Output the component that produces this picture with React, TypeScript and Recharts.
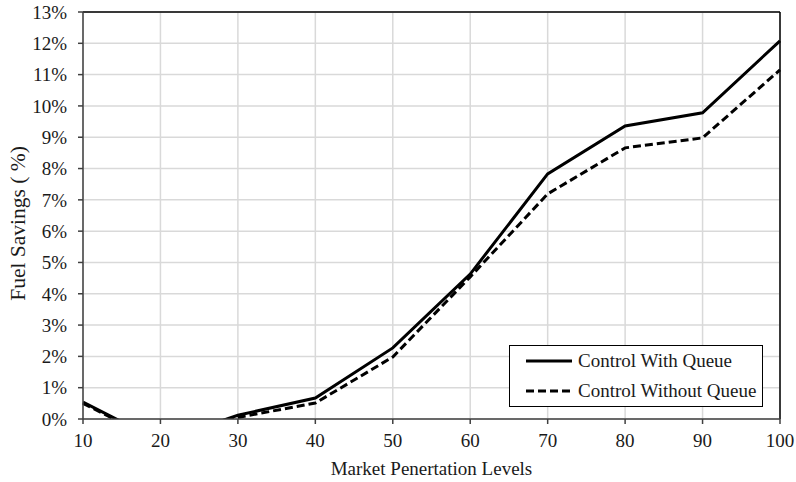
import { CartesianGrid, Legend, Line, LineChart, ReferenceLine, XAxis, YAxis } from "recharts";

const penetration = [10, 20, 30, 40, 50, 60, 70, 80, 90, 100];
const withQueue = [0.54, -0.72, 0.12, 0.67, 2.27, 4.63, 7.83, 9.36, 9.78, 12.08];
const withoutQueue = [0.5, -0.75, 0.05, 0.51, 1.98, 4.54, 7.19, 8.66, 8.98, 11.15];
const xTicks = [10, 20, 30, 40, 50, 60, 70, 80, 90, 100];
const yTicks = [0, 1, 2, 3, 4, 5, 6, 7, 8, 9, 10, 11, 12, 13];

const data = penetration.map((p, i) => ({
  level: p,
  withQueue: withQueue[i],
  withoutQueue: withoutQueue[i],
}));

const FONT = "'Liberation Serif', 'Times New Roman', serif";
const tickStyle = { fontSize: 19, fill: "#1a1a1a", fontFamily: FONT };

// legend drawn as a boxed list, like the original figure
function LegendBox({ payload }: any) {
  return (
    <div
      style={{
        width: 252,
        height: 60,
        border: "1.5px solid #000",
        background: "#fff",
        boxSizing: "content-box",
        fontFamily: FONT,
        fontSize: 19,
        color: "#1a1a1a",
      }}
    >
      {(payload || []).map((item: any, i: number) => (
        <div key={i} style={{ display: "flex", alignItems: "center", height: 30, paddingLeft: 16 }}>
          <svg width={48} height={10}>
            <line
              x1={0}
              y1={5}
              x2={46}
              y2={5}
              stroke="#000"
              strokeWidth={3}
              strokeDasharray={item.payload?.strokeDasharray}
            />
          </svg>
          <span style={{ marginLeft: 4 }}>{item.value}</span>
        </div>
      ))}
    </div>
  );
}

function YLabel({ viewBox }: any) {
  const cx = viewBox.x + 25;
  const cy = viewBox.y + viewBox.height / 2 + 8;
  return (
    <text x={cx} y={cy} transform={`rotate(-90 ${cx} ${cy})`} textAnchor="middle" fontSize={21.5} fontFamily={FONT} fill="#1a1a1a">
      Fuel Savings ( %)
    </text>
  );
}

function XLabel({ viewBox }: any) {
  return (
    <text x={viewBox.x + viewBox.width / 2} y={viewBox.y + 56} textAnchor="middle" fontSize={19} fontFamily={FONT} fill="#1a1a1a">
      Market Penertation Levels
    </text>
  );
}

export default function App() {
  return (
    <div style={{ position: "absolute", left: 0, top: 0, background: "#fff" }}>
      <LineChart width={796} height={482} data={data} margin={{ top: 12, right: 16, left: 0, bottom: 0 }}>
        <CartesianGrid stroke="#d9d9d9" strokeWidth={1.5} verticalValues={xTicks} horizontalValues={yTicks} />
        <XAxis
          dataKey="level"
          type="number"
          domain={[10, 100]}
          ticks={xTicks}
          height={63}
          tick={tickStyle}
          tickSize={5}
          tickMargin={10}
          stroke="#404040"
          strokeWidth={1.5}
          label={<XLabel />}
        />
        <YAxis
          domain={[0, 13]}
          ticks={yTicks}
          allowDataOverflow
          width={83}
          tick={tickStyle}
          tickSize={5}
          tickMargin={11}
          tickFormatter={(v: number) => `${v}%`}
          stroke="#404040"
          strokeWidth={1.5}
          label={<YLabel />}
        />
        <ReferenceLine y={13} stroke="#000" strokeWidth={1.5} />
        <ReferenceLine x={100} stroke="#000" strokeWidth={1.5} />
        <Line
          type="linear"
          dataKey="withQueue"
          name="Control With Queue"
          stroke="#000"
          strokeWidth={3}
          dot={false}
          isAnimationActive={false}
        />
        <Line
          type="linear"
          dataKey="withoutQueue"
          name="Control Without Queue"
          stroke="#000"
          strokeWidth={3}
          strokeDasharray="8 4"
          dot={false}
          isAnimationActive={false}
        />
        <Legend
          layout="horizontal"
          verticalAlign="middle"
          align="center"
          content={<LegendBox />}
          wrapperStyle={{ left: 509, top: 345, right: "auto", bottom: "auto", width: "auto" }}
        />
      </LineChart>
    </div>
  );
}
